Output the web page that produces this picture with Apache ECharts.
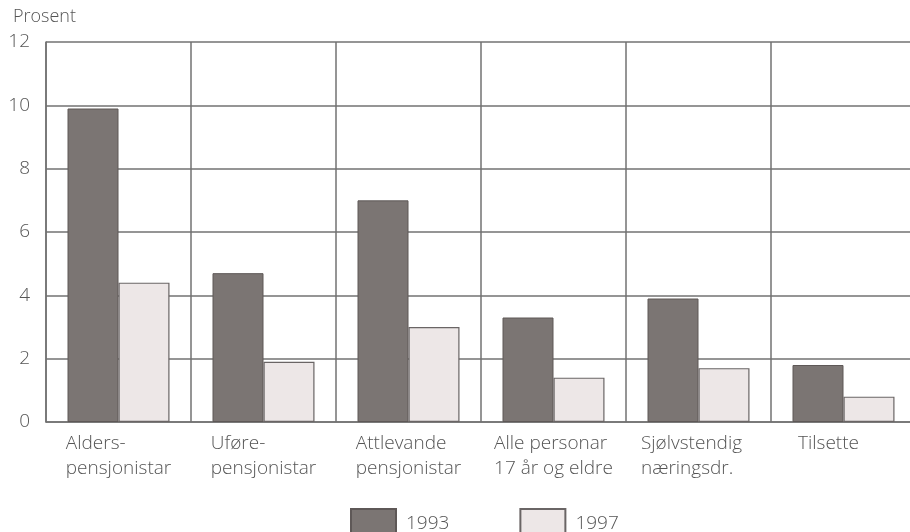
<!DOCTYPE html>
<html><head><meta charset="utf-8">
<script src="https://cdn.jsdelivr.net/npm/echarts@6/dist/echarts.min.js"></script>
<style>html,body{margin:0;padding:0;background:#fff}#c{width:910px;height:532px}</style>
</head><body><div id="c"></div>
<script>
const categories = ['Alders-\npensjonistar', 'Uføre-\npensjonistar', 'Attlevande\npensjonistar', 'Alle personar\n17 år og eldre', 'Sjølvstendig\nnæringsdr.', 'Tilsette'];
const values1993 = [9.9, 4.7, 7.0, 3.3, 3.9, 1.8];
const values1997 = [4.4, 1.9, 3.0, 1.4, 1.7, 0.8];
const yTicks = [0, 2, 4, 6, 8, 10, 12];

const FONT = '"Open Sans", "Noto Sans", sans-serif';
const TXT = '#555';
const GRID = '#727272';
const labelShift = [0, 0, 0, 0, 14, 30];
const chart = echarts.init(document.getElementById('c'));
chart.setOption({
  animation: false,
  backgroundColor: '#fff',
  title: { text: 'Prosent', left: 8, top: 3, textStyle: { fontFamily: FONT, fontSize: 18, fontWeight: 300, color: TXT } },
  legend: {
    left: 345, top: 503, itemWidth: 45, itemHeight: 30, itemGap: 70, icon: 'rect',
    textStyle: { fontFamily: FONT, fontSize: 19, fontWeight: 300, color: TXT, padding: [4, 0, 0, 5] },
    data: ['1993', '1997']
  },
  grid: { left: 46, top: 42, width: 870, height: 380, containLabel: false, outerBoundsMode: 'none' },
  xAxis: {
    type: 'category', boundaryGap: true,
    data: categories.map((c, i) => labelShift[i] ? { value: c, textStyle: { padding: [0, labelShift[i], 0, 0] } } : c),
    axisLine: { show: true, lineStyle: { color: GRID, width: 1.5 } },
    axisTick: { show: false },
    splitLine: { show: true, lineStyle: { color: GRID, width: 1.5 } },
    axisLabel: {
      interval: 0, margin: 9,
      formatter: v => v.split('\n').map(s => '{a|' + s + '}').join('\n'),
      rich: { a: { align: 'left', fontFamily: FONT, fontSize: 19, fontWeight: 300, color: TXT, lineHeight: 25 } }
    }
  },
  yAxis: {
    type: 'value', min: 0, max: 12, interval: 2,
    axisLine: { show: true, lineStyle: { color: GRID, width: 1.5 } },
    axisTick: { show: false },
    splitLine: { show: true, lineStyle: { color: GRID, width: 1.5 } },
    axisLabel: { margin: 16, fontFamily: FONT, fontSize: 19, fontWeight: 300, color: TXT,
      formatter: v => yTicks.includes(v) ? String(v) : '' }
  },
  series: [
    { name: '1993', type: 'bar', data: values1993, barWidth: 51, barGap: '0%',
      itemStyle: { color: '#7b7573', borderColor: '#5e5857', borderWidth: 1 } },
    { name: '1997', type: 'bar', data: values1997, barWidth: 51,
      itemStyle: { color: '#ede7e7', borderColor: '#6a6565', borderWidth: 1.2 } }
  ]
});
</script></body></html>
